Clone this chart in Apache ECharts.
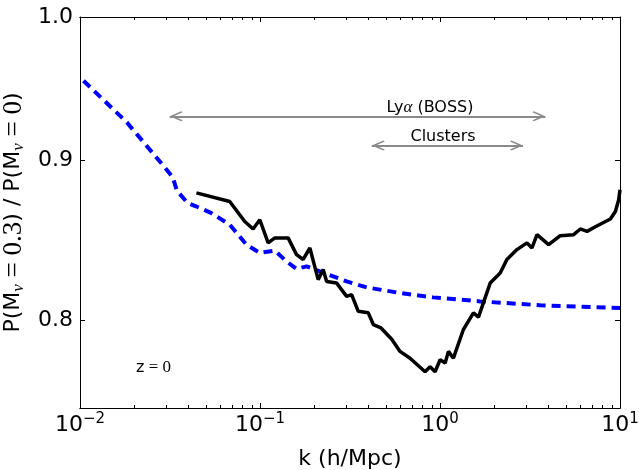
<!DOCTYPE html>
<html><head><meta charset="utf-8">
<script src="https://cdn.jsdelivr.net/npm/echarts@6/dist/echarts.min.js"></script>
<style>html,body{margin:0;padding:0;background:#fff}#c{width:639px;height:470px}</style>
</head><body><div id="c"></div>
<script>
// ---- data ----
const blueK = [0.01046, 0.01821, 0.02942, 0.03271, 0.03458, 0.03964, 0.0441, 0.05342, 0.0679, 0.0841, 0.0997, 0.1209, 0.1404, 0.1596, 0.1815, 0.2152, 0.303, 0.3915, 0.5998, 0.9154, 1.672, 3.606, 10];
const blueV = [0.9542, 0.9254, 0.8956, 0.8889, 0.8800, 0.8721, 0.8700, 0.8658, 0.8583, 0.8458, 0.8407, 0.8421, 0.8354, 0.8308, 0.8324, 0.8293, 0.8232, 0.8196, 0.8162, 0.8136, 0.8112, 0.8089, 0.8073];
const blackK = [0.04432, 0.0679, 0.08229, 0.09154, 0.09975, 0.1110, 0.1209, 0.1433, 0.1596, 0.1738, 0.1893, 0.2105, 0.2244, 0.2345, 0.2666, 0.3030, 0.3229, 0.3515, 0.3995, 0.4260, 0.4702, 0.5393, 0.5998, 0.6818, 0.8262, 0.8809, 0.9391, 1.001, 1.068, 1.114, 1.187, 1.349, 1.534, 1.636, 1.900, 2.160, 2.353, 2.676, 3.041, 3.243, 3.458, 4.012, 4.659, 5.526, 6.021, 6.561, 7.297, 8.842, 9.428, 9.835, 10];
const blackV = [0.8786, 0.8731, 0.8603, 0.8556, 0.8614, 0.8469, 0.8500, 0.8500, 0.8396, 0.8366, 0.8437, 0.8243, 0.8304, 0.8232, 0.8222, 0.8142, 0.8152, 0.8053, 0.8044, 0.7975, 0.7955, 0.7889, 0.7819, 0.7780, 0.7703, 0.7731, 0.7703, 0.7771, 0.7752, 0.7819, 0.7780, 0.7946, 0.8044, 0.8019, 0.8222, 0.8283, 0.8366, 0.8427, 0.8469, 0.8437, 0.8520, 0.8458, 0.8514, 0.8520, 0.8556, 0.8541, 0.8570, 0.8619, 0.8667, 0.8742, 0.8807];
const xMajorTicks = [0.01, 0.1, 1, 10];
const xMinorTicks = [0.02,0.03,0.04,0.05,0.06,0.07,0.08,0.09,0.2,0.3,0.4,0.5,0.6,0.7,0.8,0.9,2,3,4,5,6,7,8,9];
const yTicks = [0.8, 0.9, 1.0];
const lyaRange = [0.0315, 3.85], lyaY = 0.9295;
const clusterRange = [0.418, 2.89], clusterY = 0.9098;
const lyaLabelPos = [0.88, 0.9355];
const clusterLabelPos = [1.04, 0.9157];
const zLabelPos = [0.0256, 0.7726];

const zip = (a, b) => a.map((v, i) => [v, b[i]]);
const SANS = 'DejaVu Sans';
const SERIF = 'Liberation Serif';
const chevron = 'path://M5,0L5.01,0L5,0.01ZM5,10L10,18.8L9,20L5,13L1,20L0,18.8Z';

function xlab(v) {
  const e = Math.round(Math.log10(v));
  return '{b|10}{s|' + (e < 0 ? '\u2212' + (-e) : e) + '}';
}
const xRich = {
  b: {fontSize: 22, fontFamily: SANS, color: '#000', lineHeight: 26},
  s: {fontSize: 15, fontFamily: SANS, color: '#000', lineHeight: 16, verticalAlign: 'top'}
};
function xAx(pos, ticks, len, labels) {
  return {
    type: 'log', logBase: 10, min: 0.01, max: 10, position: pos, gridIndex: 0,
    axisLine: {show: true, onZero: false, lineStyle: {color: '#000', width: 1}},
    axisTick: {show: true, inside: true, length: len, customValues: ticks, lineStyle: {color: '#000', width: 1}},
    axisLabel: labels ? {show: true, customValues: xMajorTicks, formatter: xlab, rich: xRich, margin: 4} : {show: false},
    splitLine: {show: false}, minorTick: {show: false}
  };
}
function yAx(pos, labels) {
  return {
    type: 'log', logBase: 10, min: 0.75, max: 1.0, position: pos,
    axisLine: {show: true, onZero: false, lineStyle: {color: '#000', width: 1}},
    axisTick: {show: true, inside: true, length: 5, customValues: yTicks, lineStyle: {color: '#000'}},
    axisLabel: labels ? {show: true, customValues: yTicks, formatter: v => v.toFixed(1), fontSize: 22, fontFamily: SANS, color: '#000', margin: 7} : {show: false},
    splitLine: {show: false}
  };
}

const xA = [xAx('bottom', xMajorTicks, 5, true), xAx('top', xMajorTicks, 5, false), xAx('bottom', xMinorTicks, 3, false), xAx('top', xMinorTicks, 3, false)];
xA[0].name = 'k (h/Mpc)';
xA[0].nameLocation = 'middle';
xA[0].nameGap = 40;
xA[0].nameTextStyle = {fontSize: 22, fontFamily: SANS, color: '#000'};

const yA = [yAx('left', true), yAx('right', false)];
yA[0].name = 'P(M{v|\u03bd}{m| = 0.3}) / P(M{v|\u03bd}{m| = 0})';
yA[0].nameLocation = 'middle';
yA[0].nameRotate = 90;
yA[0].nameGap = 45;
yA[0].nameTextStyle = {
  fontSize: 22, fontFamily: SANS, color: '#000', lineHeight: 26,
  rich: {
    v: {fontSize: 17, fontFamily: SERIF, fontStyle: 'italic', color: '#000', lineHeight: 16, verticalAlign: 'bottom'},
    m: {fontSize: 27, fontFamily: SERIF, color: '#000', lineHeight: 26}
  }
};

const option = {
  animation: false,
  backgroundColor: '#fff',
  grid: {left: 80, right: 19, top: 17, bottom: 62, show: false, containLabel: false, outerBoundsMode: 'none'},
  xAxis: xA,
  yAxis: yA,
  series: [
    {
      type: 'line', xAxisIndex: 0, yAxisIndex: 0, data: zip(blueK, blueV), showSymbol: false, symbol: 'none',
      lineStyle: {color: '#0000ff', width: 4, type: [9, 6], cap: 'butt'}, z: 3,
      markLine: {
        silent: true, symbol: [chevron, chevron], symbolSize: [10, 26],
        lineStyle: {color: '#8a8a8a', width: 2.2, type: 'solid'}, label: {show: false},
        data: [
          [{coord: [lyaRange[0], lyaY]}, {coord: [lyaRange[1], lyaY]}],
          [{coord: [clusterRange[0], clusterY]}, {coord: [clusterRange[1], clusterY]}]
        ]
      },
      markPoint: {
        silent: true, symbol: 'circle', symbolSize: 0,
        label: {show: true, position: 'inside', color: '#000', fontSize: 16, fontFamily: SANS,
          formatter: p => p.name,
          rich: {a: {fontSize: 17, fontFamily: SERIF, fontStyle: 'italic', color: '#000'},
                 m: {fontSize: 17, fontFamily: SERIF, color: '#000'}}},
        data: [
          {name: 'Ly{a|\u03b1} (BOSS)', coord: lyaLabelPos},
          {name: 'Clusters', coord: clusterLabelPos},
          {name: 'z{m| = 0}', coord: zLabelPos}
        ]
      }
    },
    {
      type: 'line', xAxisIndex: 0, yAxisIndex: 0, data: zip(blackK, blackV), showSymbol: false, symbol: 'none',
      lineStyle: {color: '#000', width: 3.5}, z: 4
    }
  ]
};
const chart = echarts.init(document.getElementById('c'), null, {renderer: 'canvas'});
chart.setOption(option);
</script></body></html>
